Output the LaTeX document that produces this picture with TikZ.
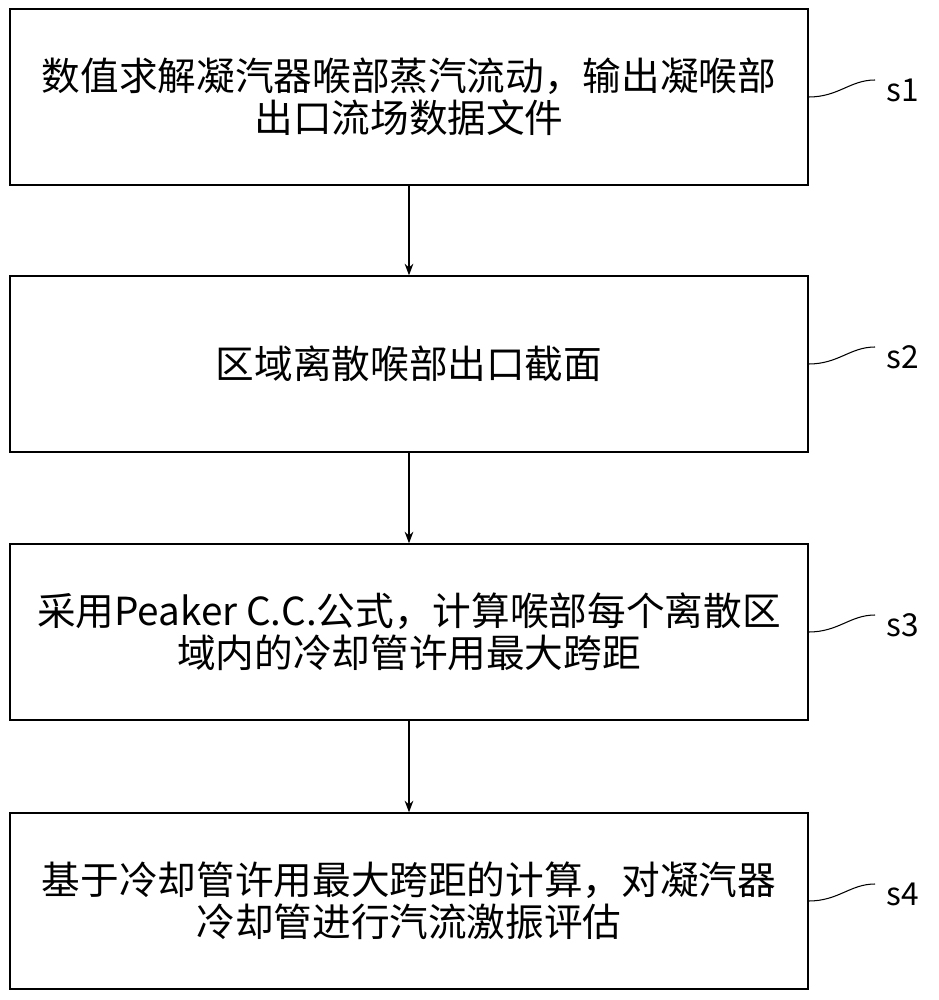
\documentclass[tikz,border=0pt]{standalone}
\usepackage{fontspec}
\newfontfamily\cjk{Noto Sans CJK SC}
\usetikzlibrary{positioning, arrows.meta}

\begin{document}
\begin{tikzpicture}[x=0.02cm, y=-0.02cm, >=Stealth,
    stepbox/.style={draw, line width=0.8pt, minimum width=15.96cm, minimum height=3.52cm,
        align=center, font=\cjk\fontsize{22}{24}\selectfont},
    steplabel/.style={font=\cjk\fontsize{18}{20}\selectfont, anchor=west}]

\useasboundingbox (0,0) rectangle (939,1000);

% Steps
\node[stepbox] (S1) at (409,97) {数值求解凝汽器喉部蒸汽流动，输出凝喉部\\出口流场数据文件};
\node[stepbox] (S2) at (409,364) {区域离散喉部出口截面};
\node[stepbox] (S3) at (409,632) {采用Peaker C.C.公式，计算喉部每个离散区\\域内的冷却管许用最大跨距};
\node[stepbox] (S4) at (409,901) {基于冷却管许用最大跨距的计算，对凝汽器\\冷却管进行汽流激振评估};

% Arrows
\foreach \a/\b in {S1/S2, S2/S3, S3/S4}
    \draw[->, line width=0.8pt] (\a) -- (\b);

% Labels
\foreach \n/\y in {1/90, 2/357, 3/625, 4/894} {
    \coordinate (C\n) at (875,\y-10);
    \node[steplabel] (L\n) at (880,\y) {s\n};
    \draw[line width=0.6pt] (S\n.east) .. controls +(30,0) and +(-25,0) .. (C\n);
}

\end{tikzpicture}
\end{document}
